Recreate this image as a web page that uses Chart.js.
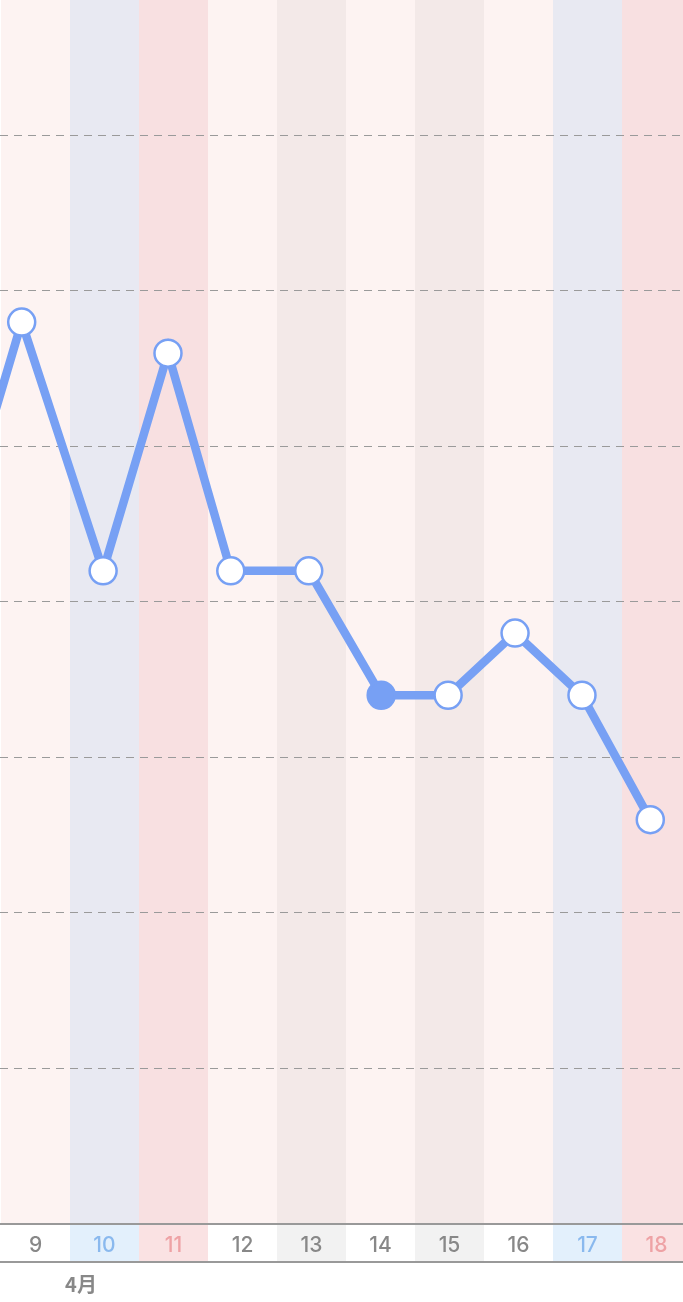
<!DOCTYPE html>
<html>
<head>
<meta charset="utf-8">
<script src="https://cdn.jsdelivr.net/npm/chart.js@4"></script>
<style>
    html, body { margin: 0; padding: 0; background: #fff; }
    #wrap { width: 683px; height: 1302px; position: relative; }
</style>
</head>
<body>
<div id="wrap"><canvas id="chart"></canvas></div>
<script>
// days shown along the bottom and what kind of day each one is
const days = [9, 10, 11, 12, 13, 14, 15, 16, 17, 18];
const dayKinds = ['weekday', 'sat', 'sun', 'weekday', 'closed', 'weekday', 'closed', 'weekday', 'sat', 'sun'];
const monthLabel = '4月';

// line points: position in days (first one lies off the left edge) and value
const pointDays = [7.73, 8.80, 9.98, 10.92, 11.83, 12.96, 14.01, 14.98, 15.95, 16.92, 17.91];
const pointValues = [42, 58, 42, 56, 42, 42, 34, 34, 38, 34, 26];
const filledPoint = 6;

const columnColors = { weekday: '#fdf3f2', sat: '#e8e9f2', sun: '#f8e0e1', closed: '#f3e9e8' };
const labelBgColors = { weekday: '#ffffff', sat: '#e3f0fc', sun: '#fae2e3', closed: '#f2f2f2' };
const labelColors = { weekday: '#888888', sat: '#8ab9ee', sun: '#eea2a5', closed: '#888888' };
const lineColor = '#77a0f4';

const dayBands = {
    id: 'dayBands',
    beforeDraw(chart) {
        const { ctx, chartArea, scales: { x } } = chart;
        ctx.save();
        days.forEach((d, i) => {
            const l = x.getPixelForValue(d - 0.5);
            const r = x.getPixelForValue(d + 0.5);
            ctx.fillStyle = columnColors[dayKinds[i]];
            ctx.fillRect(l, chartArea.top, r - l, chartArea.bottom - chartArea.top);
            ctx.fillStyle = labelBgColors[dayKinds[i]];
            ctx.fillRect(l, x.top, r - l, x.bottom - x.top);
        });
        ctx.restore();
    },
    afterDraw(chart) {
        const { ctx, scales: { x } } = chart;
        ctx.save();
        ctx.strokeStyle = '#999';
        ctx.lineWidth = 2;
        ctx.beginPath();
        ctx.moveTo(x.left, x.bottom);
        ctx.lineTo(x.right, x.bottom);
        ctx.stroke();
        ctx.fillStyle = '#888';
        ctx.font = 'bold 20px "Noto Sans CJK JP", "Noto Sans", sans-serif';
        ctx.textAlign = 'center';
        ctx.textBaseline = 'middle';
        ctx.fillText(monthLabel, 81, x.bottom + 22);
        ctx.restore();
    }
};

const dayIndex = v => days.indexOf(Math.round(v));

// no extra room around the plot for the hidden/edge labels
const noPadding = scale => {
    scale.paddingLeft = 0;
    scale.paddingRight = 0;
    scale.paddingTop = 0;
    scale.paddingBottom = 0;
};

new Chart(document.getElementById('chart'), {
    type: 'line',
    data: {
        datasets: [{
            data: pointDays.map((d, i) => ({ x: d, y: pointValues[i] })),
            borderColor: lineColor,
            borderWidth: 8.5,
            tension: 0,
            pointRadius: 13.5,
            pointBorderWidth: 2.5,
            pointBorderColor: lineColor,
            pointBackgroundColor: pointDays.map((d, i) => i === filledPoint ? lineColor : '#ffffff')
        }]
    },
    options: {
        responsive: true,
        maintainAspectRatio: false,
        animation: false,
        layout: { autoPadding: false, padding: { left: 0, right: 0, top: 0, bottom: 40 } },
        plugins: { legend: { display: false }, tooltip: { enabled: false } },
        scales: {
            x: {
                type: 'linear',
                position: 'bottom',
                min: 8.4855,
                max: 18.384,
                grid: { display: false },
                border: { display: true, color: '#999', width: 2 },
                ticks: {
                    stepSize: 1,
                    includeBounds: false,
                    autoSkip: false,
                    maxRotation: 0,
                    padding: 1,
                    font: { family: 'Inter, "Liberation Sans", sans-serif', size: 21, weight: '500' },
                    color: ctx => {
                        const i = dayIndex(ctx.tick.value);
                        return i >= 0 ? labelColors[dayKinds[i]] : '#888';
                    },
                    callback: value => days.includes(value) ? String(value) : ''
                },
                afterFit: scale => { scale.height = 38; noPadding(scale); }
            },
            y: {
                min: 0,
                max: 78.71,
                grid: {
                    color: ctx => (ctx.tick.value > 0 && ctx.tick.value % 10 === 0) ? '#9a9a9a' : 'rgba(0,0,0,0)',
                    lineWidth: 1,
                    drawTicks: false
                },
                border: { display: false, dash: [8, 6] },
                ticks: { display: false, stepSize: 10 },
                afterFit: scale => { scale.width = 0; noPadding(scale); }
            }
        }
    },
    plugins: [dayBands]
});
</script>
</body>
</html>
